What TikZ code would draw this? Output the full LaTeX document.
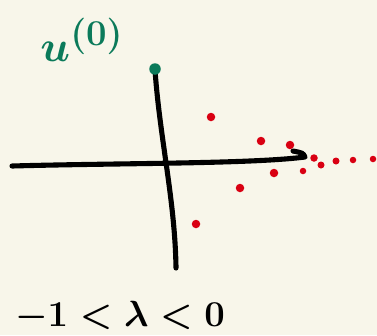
\documentclass[tikz,border=0pt]{standalone}
\usepackage{amsmath,amssymb}
\usepackage{tikz}
\usetikzlibrary{positioning,calc}
\usepackage{xcolor}
\definecolor{paper}{HTML}{F8F6EA}
\definecolor{inkgreen}{HTML}{0B7A5A}
\definecolor{inkred}{HTML}{D90012}

\begin{document}
\begin{tikzpicture}[
  x=0.02cm, y=-0.02cm,
  axis/.style={line width=2.9pt, line cap=round, line join=round, black},
  pt/.style={circle, fill=inkred, inner sep=0pt, minimum size=0.17cm},
  start/.style={circle, fill=inkgreen, inner sep=0pt, minimum size=0.23cm},
  lbl/.style={inner sep=0pt, font=\fontsize{20}{22}\selectfont\boldmath},
]

% paper
\fill[paper] (0,0) rectangle (377,335);
\useasboundingbox (0,0) rectangle (377,335);

% axes
\draw[axis] (155,70) .. controls (160,140) and (175,200) .. (176,268);
\draw[axis] (12,166) .. controls (120,163) and (250,164) .. (305,157)
  .. controls (303,153) .. (293,151);

% starting point
\node[start] (u0) at (155,69) {};
\node[lbl, inkgreen, font=\fontsize{28}{30}\selectfont\boldmath] (ulabel) at (82,40) {$u^{(0)}$};

% iterates
\node[pt] (p1) at (211,117) {};
\node[pt] (p2) at (196,224) {};
\node[pt] (p3) at (261,141) {};
\node[pt] (p4) at (240,188) {};
\node[pt] (p5) at (290,145) {};
\node[pt] (p6) at (274,173) {};
\node[pt, minimum size=0.15cm] (p7) at (314,158) {};
\node[pt, minimum size=0.13cm] (p8) at (303,171) {};
\node[pt, minimum size=0.14cm] (p9) at (321,165) {};
\node[pt, minimum size=0.14cm] (p10) at (336,161) {};
\node[pt, minimum size=0.13cm] (p11) at (353,160) {};
\node[pt, minimum size=0.13cm] (p12) at (373,159) {};

% range
\node[lbl] (range) at (120,316) {$-1<\lambda<0$};

\end{tikzpicture}
\end{document}
